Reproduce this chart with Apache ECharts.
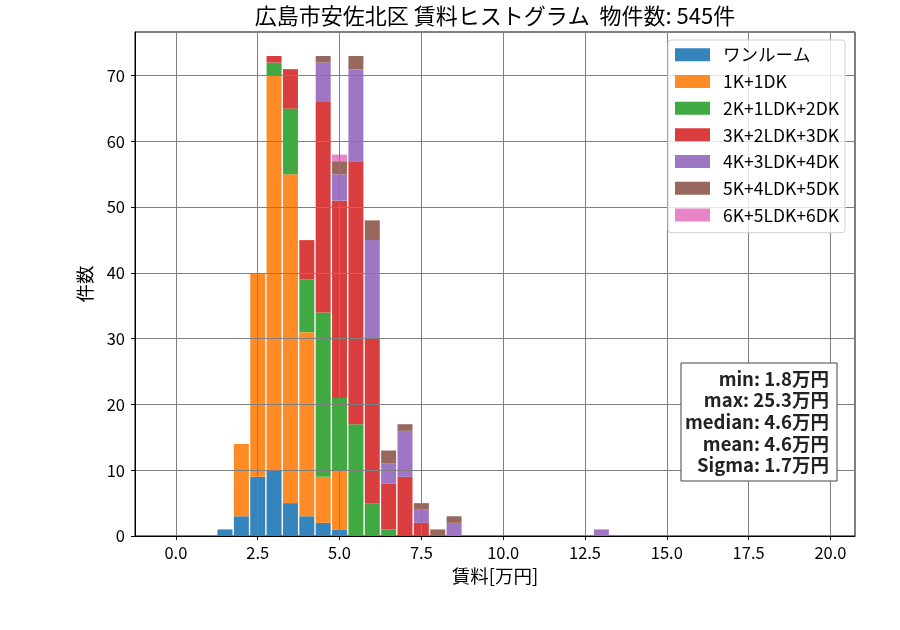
<!DOCTYPE html>
<html>
<head>
<meta charset="utf-8">
<script src="https://cdn.jsdelivr.net/npm/echarts@6/dist/echarts.min.js"></script>
<style>
  html, body { margin: 0; padding: 0; background: #fff; }
  #chart { width: 900px; height: 630px; }
</style>
</head>
<body>
<div id="chart"></div>
<script>
const FONT = '"Noto Sans CJK JP", "Noto Sans", sans-serif'

// bin centres (万円) and counts per layout type
const bins = [1.5, 2.0, 2.5, 3.0, 3.5, 4.0, 4.5, 5.0, 5.5, 6.0, 6.5, 7.0, 7.5, 8.0, 8.5, 13.0]
const oneRoom = [1, 3, 9, 10, 5, 3, 2, 1, 0, 0, 0, 0, 0, 0, 0, 0]
const k1 = [0, 11, 31, 60, 50, 28, 7, 9, 0, 0, 0, 0, 0, 0, 0, 0]
const k2 = [0, 0, 0, 2, 10, 8, 25, 11, 17, 5, 1, 0, 0, 0, 0, 0]
const k3 = [0, 0, 0, 1, 6, 6, 32, 30, 40, 25, 7, 9, 2, 0, 0, 0]
const k4 = [0, 0, 0, 0, 0, 0, 6, 4, 14, 15, 3, 7, 2, 0, 2, 1]
const k5 = [0, 0, 0, 0, 0, 0, 1, 2, 2, 3, 2, 1, 1, 1, 1, 0]
const k6 = [0, 0, 0, 0, 0, 0, 0, 1, 0, 0, 0, 0, 0, 0, 0, 0]

const seriesNames = ['ワンルーム', '1K+1DK', '2K+1LDK+2DK', '3K+2LDK+3DK', '4K+3LDK+4DK', '5K+4LDK+5DK', '6K+5LDK+6DK']
const seriesValues = [oneRoom, k1, k2, k3, k4, k5, k6]
const colors = ['#3584bc', '#ff8b26', '#41a941', '#da3d3d', '#9f76c4', '#98675d', '#e685c8']

const xTicks = [0, 2.5, 5, 7.5, 10, 12.5, 15, 17.5, 20]
const statLines = ['min: 1.8万円', 'max: 25.3万円', 'median: 4.6万円', 'mean: 4.6万円', 'Sigma: 1.7万円']

// hidden band axis: 0.5-wide slots spanning the visible range -1.25 .. 20.75
const X_MIN = -1.25
const X_MAX = 20.75
const slots = []
for (let v = X_MIN + 0.25; v < X_MAX; v += 0.5) slots.push(v.toFixed(1))

const chart = echarts.init(document.getElementById('chart'))

const series = seriesNames.map((name, k) => ({
  name: name,
  type: 'bar',
  stack: 'all',
  xAxisIndex: 1,
  barWidth: 15,
  itemStyle: { color: colors[k] },
  data: slots.map((s) => {
    const i = bins.findIndex((b) => b.toFixed(1) === s)
    return i < 0 ? 0 : seriesValues[k][i]
  }),
}))

chart.setOption({
  animation: false,
  textStyle: { fontFamily: FONT },
  grid: {
    left: 135, right: 45, top: 32, bottom: 94,
    show: true, borderColor: '#000', borderWidth: 1,
  },
  xAxis: [
    {
      type: 'value',
      min: X_MIN,
      max: X_MAX,
      z: 3,
      name: '賃料[万円]',
      nameLocation: 'middle',
      nameGap: 31,
      nameTextStyle: { fontSize: 18.5, color: '#000', fontFamily: FONT },
      axisLine: { show: true, onZero: false, lineStyle: { color: '#000', width: 1 } },
      axisTick: { show: true, length: 4, lineStyle: { color: '#000' }, customValues: xTicks },
      axisLabel: {
        customValues: xTicks,
        formatter: (v) => v.toFixed(1),
        fontSize: 16.5, color: '#000', margin: 8, fontFamily: FONT,
      },
      splitLine: { show: true, lineStyle: { color: '#808080', width: 1 } },
    },
    {
      type: 'category',
      data: slots,
      position: 'bottom',
      show: false,
      boundaryGap: true,
    },
  ],
  yAxis: {
    type: 'value',
    min: 0,
    max: 76.65,
    interval: 10,
    z: 3,
    name: '件数',
    nameLocation: 'middle',
    nameGap: 41,
    nameTextStyle: { fontSize: 18.5, color: '#000', fontFamily: FONT },
    axisLine: { show: true, onZero: false, lineStyle: { color: '#000', width: 1 } },
    axisTick: { show: true, length: 4, lineStyle: { color: '#000' } },
    axisLabel: { fontSize: 16.5, color: '#000', margin: 10, fontFamily: FONT, showMaxLabel: false },
    splitLine: { show: true, lineStyle: { color: '#808080', width: 1 } },
  },
  legend: {
    orient: 'vertical',
    left: 668,
    top: 40,
    icon: 'rect',
    itemWidth: 35,
    itemHeight: 13,
    itemGap: 9.2,
    padding: [6, 6, 9, 7],
    backgroundColor: 'rgba(255,255,255,0.8)',
    borderColor: '#d0d0d0',
    borderWidth: 1,
    borderRadius: 3,
    textStyle: { fontSize: 17.5, lineHeight: 17.5, color: '#000', fontFamily: FONT, padding: [0, 0, 0, 8] },
    data: seriesNames,
  },
  graphic: [
    {
      type: 'text',
      z: 100,
      style: {
        text: '広島市安佐北区 賃料ヒストグラム  物件数: 545件',
        x: 495, y: 16,
        textAlign: 'center', textVerticalAlign: 'middle',
        fontSize: 22, fill: '#000', fontFamily: FONT,
      },
    },
    {
      type: 'rect',
      z: 100,
      shape: { x: 681, y: 363, width: 156, height: 118 },
      style: { fill: '#fff', stroke: '#444', lineWidth: 1 },
    },
    {
      type: 'text',
      z: 101,
      style: {
        text: statLines.join('\n'),
        x: 829, y: 422,
        textAlign: 'right', textVerticalAlign: 'middle',
        lineHeight: 21.7,
        fontSize: 18.5, fontWeight: 'bold', fill: '#222', fontFamily: FONT,
      },
    },
  ],
  series: series,
})
</script>
</body>
</html>
